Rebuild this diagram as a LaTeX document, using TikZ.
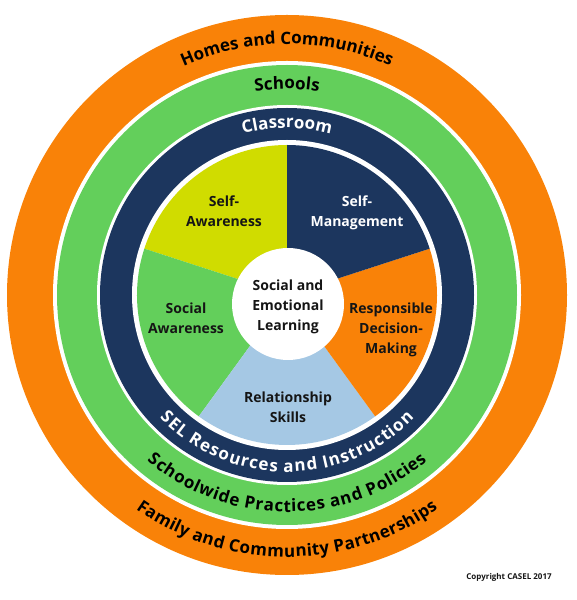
\documentclass[tikz,border=0pt]{standalone}
\usepackage{fontspec}
\setmainfont{Open Sans}
\usetikzlibrary{decorations.text}
\definecolor{selorange}{HTML}{F98208}
\definecolor{selgreen}{HTML}{63CF5B}
\definecolor{selnavy}{HTML}{1C365E}
\definecolor{sellime}{HTML}{D0DC00}
\definecolor{selblue}{HTML}{A5C8E4}
\definecolor{seltext}{HTML}{151515}
\newcommand{\ringfont}{\fontsize{17}{20}\selectfont\bfseries}
\tikzset{
  lbl/.style={align=center,font=\fontsize{14}{20}\selectfont\bfseries,text=seltext,inner sep=0pt},
  toptext/.style={decorate,decoration={text along path,text align=center,
        text={|\ringfont|#1}}},
  bottext/.style={decorate,decoration={text along path,text align=center,
        text={|\ringfont|#1}}},
}
\begin{document}
\begin{tikzpicture}[x=1pt,y=1pt]
  \useasboundingbox (0,0) rectangle (577,600);
  \begin{scope}[shift={(287,305)}]
    % rings, outside in
    \fill[selorange] (0,0) circle[radius=280];
    \fill[white]     (0,0) circle[radius=234];
    \fill[selgreen]  (0,0) circle[radius=230];
    \fill[white]     (0,0) circle[radius=190];
    \fill[selnavy]   (0,0) circle[radius=187];
    \fill[white]     (0,0) circle[radius=155];
    % five competencies
    \fill[sellime]   (0,0) -- (90:150)  arc[start angle=90,end angle=162,radius=150] -- cycle;
    \fill[selgreen]  (0,0) -- (162:150) arc[start angle=162,end angle=234,radius=150] -- cycle;
    \fill[selblue]   (0,0) -- (234:150) arc[start angle=234,end angle=306,radius=150] -- cycle;
    \fill[selorange] (0,0) -- (306:150) arc[start angle=306,end angle=378,radius=150] -- cycle;
    \fill[selnavy]   (0,0) -- (18:150)  arc[start angle=18,end angle=90,radius=150] -- cycle;
    \fill[white] (1,-9) circle[radius=56];
    \node[lbl] (core)   at (1,-12)    {Social and\\Emotional\\Learning};
    \node[lbl] (selfaw) at (-63,84)   {Self-\\Awareness};
    \node[lbl,text=white] (selfmg) at (70,82) {Self-\\Management};
    \node[lbl] (socaw)  at (-101,-23) {Social\\Awareness};
    \node[lbl] (respdm) at (104,-35)  {Responsible\\Decision-\\Making};
    \node[lbl] (relsk)  at (1,-112)   {Relationship\\Skills};
    % ring labels
    \path[toptext={Homes and Communities}] (180:251) arc[start angle=180,end angle=0,radius=251];
    \path[toptext={Schools}] (180:206) arc[start angle=180,end angle=0,radius=206];
    \path[toptext={Classroom},decoration={text color=white}] (180:167) arc[start angle=180,end angle=0,radius=167];
    % bottom labels run on a smaller arc, lifted outward, so they spread a little
    \path[bottext={SEL Resources and Instruction},decoration={text color=white,raise=-19pt}] (180:158) arc[start angle=180,end angle=360,radius=158];
    \path[bottext={Schoolwide Practices and Policies},decoration={raise=-16pt}] (180:201) arc[start angle=180,end angle=360,radius=201];
    \path[bottext={Family and Community Partnerships},decoration={raise=-10pt}] (180:252) arc[start angle=180,end angle=360,radius=252];
  \end{scope}
  \node[font=\fontsize{8}{9}\selectfont\bfseries,text=seltext] (copy) at (509,23) {Copyright CASEL 2017};
\end{tikzpicture}
\end{document}
